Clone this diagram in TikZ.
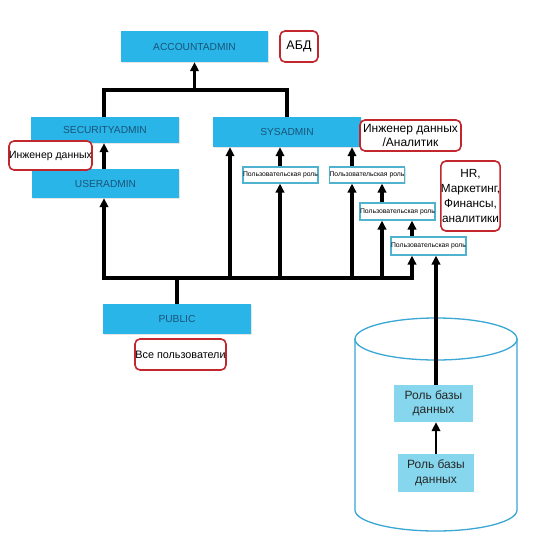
\documentclass[tikz,border=0pt]{standalone}
\usepackage{fontspec}
\setmainfont{Liberation Sans}
\usetikzlibrary{arrows.meta,shadows}
\definecolor{sfblue}{HTML}{29B5E8}
\definecolor{sftext}{HTML}{1A5478}
\definecolor{dbfill}{HTML}{86D7EE}
\definecolor{urborder}{HTML}{4FB3CF}
\definecolor{redline}{HTML}{C1272D}
\definecolor{cylcol}{HTML}{3AA7D5}
\tikzset{
  mainbox/.style={fill=sfblue, draw=none, text=sftext, inner sep=0pt,
    font=\fontsize{10.2}{12}\selectfont,
    drop shadow={opacity=0.2, shadow xshift=1pt, shadow yshift=-1pt}},
  redbox/.style={draw=redline, line width=1.6pt, rounded corners=5pt, fill=white,
    inner sep=0pt, align=center, text=black},
  urbox/.style={draw=urborder, line width=1.2pt, fill=white, inner sep=0pt,
    minimum width=75pt, text=black, font=\fontsize{6.8}{7}\selectfont,
    drop shadow={opacity=0.25, shadow xshift=1pt, shadow yshift=-1pt}},
  dbbox/.style={fill=dbfill, draw=none, inner sep=0pt, align=center,
    text=black!85, font=\fontsize{12}{14.5}\selectfont},
  conn/.style={line width=3.4pt, black},
  arr/.style={conn, -{Triangle[length=9pt,width=8.5pt]}},
  cyl/.style={draw=cylcol, line width=1.3pt}
}
\begin{document}
\begin{tikzpicture}[x=1pt,y=-1pt]
\useasboundingbox (0,0) rectangle (549,560);
\fill[white] (0,0) rectangle (549,560);

% cylinder
\draw[cyl] (355,339) -- (355,510) arc[start angle=180, end angle=360, x radius=81pt, y radius=21pt] -- (517,339);
\draw[cyl] (436,339) ellipse[x radius=81pt, y radius=21pt];

% main boxes
\node[mainbox, minimum width=147pt, minimum height=31pt] (acc) at (194.5,46.5) {ACCOUNTADMIN};
\node[mainbox, minimum width=148pt, minimum height=26pt] (sec) at (105,130) {SECURITYADMIN};
\node[mainbox, minimum width=147pt, minimum height=29pt] (usr) at (105.5,183.5) {USERADMIN};
\node[mainbox, minimum width=148pt, minimum height=30pt] (sys) at (287,132) {SYSADMIN};
\node[mainbox, minimum width=148pt, minimum height=30pt] (pub) at (177,319) {PUBLIC};

% red labels
\node[redbox, minimum width=38pt, minimum height=31pt, font=\fontsize{12.5}{14}\selectfont] (abd) at (299,46.5) {АБД};
\node[redbox, minimum width=81pt, minimum height=29pt, font=\fontsize{10.5}{12}\selectfont] (eng) at (50.5,155.5) {Инженер данных};
\node[redbox, minimum width=101pt, minimum height=31pt, font=\fontsize{12}{13.5}\selectfont] (enga) at (410.5,135.5) {Инженер данных\\/Аналитик};
\node[redbox, minimum width=59pt, minimum height=70pt, font=\fontsize{11.8}{15}\selectfont] (hr) at (470.5,196) {HR,\\Маркетинг,\\Финансы,\\аналитики};
\node[redbox, minimum width=91pt, minimum height=31pt, font=\fontsize{10.8}{12}\selectfont] (all) at (180.5,354.5) {Все пользователи};

% user roles
\node[urbox, minimum height=16pt] (ur1) at (280.5,175) {Пользовательская роль};
\node[urbox, minimum height=16pt] (ur2) at (367,175) {Пользовательская роль};
\node[urbox, minimum height=17pt] (ur3) at (397.5,211.5) {Пользовательская роль};
\node[urbox, minimum height=18pt] (ur4) at (428.5,246) {Пользовательская роль};

% database roles
\node[dbbox, minimum width=79pt, minimum height=37pt] (db1) at (433.5,403.5) {Роль базы\\данных};
\node[dbbox, minimum width=76pt, minimum height=38pt] (db2) at (436,473) {Роль базы\\данных};

% helper coordinates
\coordinate (brL) at (104,90);
\coordinate (brR) at (287,90);
\coordinate (busL) at (104,278);
\coordinate (busR) at (412,278);
\coordinate (x230) at (230,0);
\coordinate (x280) at (280,0);
\coordinate (x352) at (352,0);
\coordinate (x382) at (382,0);
\coordinate (x412) at (412,0);
\coordinate (x436) at (436,0);

% top bracket
\draw[conn, line join=miter] (sec.north -| brL) -- (brL) -- (brR) -- (sys.north -| brR);
\draw[arr] (acc.south |- brL) -- (acc.south);

% useradmin -> securityadmin
\draw[arr] (usr.north -| brL) -- (sec.south -| brL);

% bus
\draw[conn, line cap=rect] (busL) -- (busR);
\draw[arr] (busL) -- (usr.south -| busL);
\draw[conn] (pub.north) -- (pub.north |- busL);

% arrows into sysadmin
\draw[arr] (busL -| x230) -- (sys.south -| x230);
\draw[arr] (busL -| x280) -- (ur1.south -| x280);
\draw[arr] (ur1.north -| x280) -- (sys.south -| x280);
\draw[arr] (busL -| x352) -- (ur2.south -| x352);
\draw[arr] (ur2.north -| x352) -- (sys.south -| x352);
\draw[arr] (busL -| x382) -- (ur3.south -| x382);
\draw[arr] (ur3.north -| x382) -- (ur2.south -| x382);
\draw[arr] (busR) -- (ur4.south -| busR);
\draw[arr] (ur4.north -| x412) -- (ur3.south -| x412);

% database roles up
\draw[arr] (db1.north -| x436) -- (ur4.south -| x436);
\draw[arr, line width=2.8pt] (db2.north) -- (db1.south -| db2.north);
\end{tikzpicture}
\end{document}
